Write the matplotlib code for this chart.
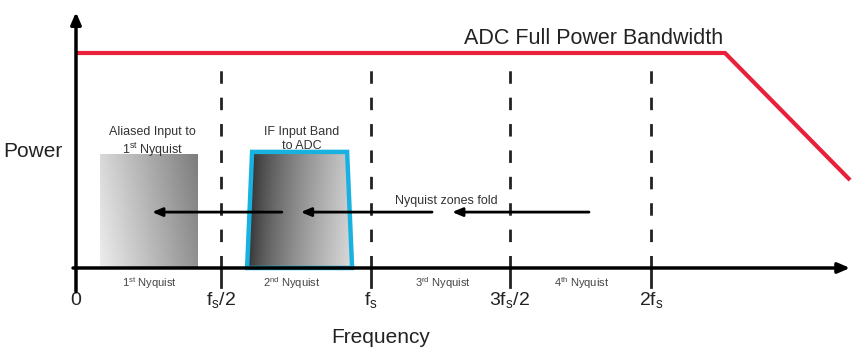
import matplotlib
matplotlib.use("Agg")
import matplotlib.pyplot as plt
from matplotlib.patches import Polygon
import numpy as np

plt.rcParams['font.family'] = ['Liberation Sans', 'DejaVu Sans']
plt.rcParams['mathtext.default'] = 'regular'
plt.rcParams['lines.scale_dashes'] = False

# x in units of fs, y in relative power (1.0 = full power level)
tick_pos = [0.0, 0.4915, 1.0, 1.471, 1.949]
tick_labels = ['0', 'f$_s$/2', 'f$_s$', '3f$_s$/2', '2f$_s$']
zone_pos = [0.25, 0.73, 1.245, 1.715]
zone_labels = ['1$^{st}$ Nyquist', '2$^{nd}$ Nyquist', '3$^{rd}$ Nyquist', '4$^{th}$ Nyquist']

bw_x = [0.0, 2.2, 2.624]
bw_y = [1.0, 1.0, 0.409]

alias_x = [0.081, 0.41]
alias_top = 0.526
if_x = [0.58, 0.597, 0.919, 0.936]
if_y = [0.0, 0.54, 0.54, 0.0]

fold_y = 0.26
fold_arrows = [(0.698, 0.258), (1.207, 0.762), (1.739, 1.275)]

fig = plt.figure(figsize=(8.65, 3.55), dpi=100)
ax = fig.add_axes([0, 0, 1, 1])
ax.set_xlim(-0.2576, 2.6746)
ax.set_ylim(-0.4047, 1.2465)
ax.axis('off')

# --- 渐变色块：混叠到第一奈奎斯特区的信号 ---
t = np.linspace(0, 1, 200)[None, :]
v = np.linspace(0, 1, 100)[:, None]
grad1 = 0.93 - 0.36 * t - 0.08 * (1 - v)
ax.imshow(grad1, cmap='gray', vmin=0, vmax=1, aspect='auto', origin='upper',
          extent=(alias_x[0], alias_x[1], 0, alias_top), zorder=1, interpolation='bilinear')

# IF 输入带
grad2 = 0.12 + 0.68 * t ** 0.7 + 0.06 * v
im2 = ax.imshow(grad2, cmap='gray', vmin=0, vmax=1, aspect='auto', origin='upper',
                extent=(if_x[0], if_x[3], 0, if_y[1]), zorder=1, interpolation='bilinear')
trap = Polygon(list(zip(if_x, if_y)), closed=True, fill=False,
               edgecolor='#19b2e0', lw=3.2, zorder=3)
ax.add_patch(trap)
im2.set_clip_path(trap)

# 满功率带宽线
ax.plot(bw_x, bw_y, color='#e8203a', lw=3, zorder=4, solid_capstyle='butt')
ax.text(1.755, 1.02, 'ADC Full Power Bandwidth', fontsize=15.5, ha='center', va='bottom', color='#222222')

# 奈奎斯特分界虚线
for xp in tick_pos[1:]:
    ax.plot([xp, xp], [0, 0.92], color='#222222', lw=2, dashes=(9, 10), zorder=2)
    ax.plot([xp, xp], [-0.09, 0], color='#222222', lw=2, zorder=2)

# 坐标轴
ax.annotate('', xy=(0, 1.19), xytext=(0, -0.11),
            arrowprops=dict(arrowstyle='-|>,head_length=0.7,head_width=0.3', lw=2.5,
                            color='black', shrinkA=0, shrinkB=0), zorder=5)
ax.annotate('', xy=(2.624, 0), xytext=(-0.01, 0),
            arrowprops=dict(arrowstyle='-|>,head_length=0.7,head_width=0.3', lw=2.5,
                            color='black', shrinkA=0, shrinkB=0), zorder=5)

# 折叠箭头
for x0, x1 in fold_arrows:
    ax.annotate('', xy=(x1, fold_y), xytext=(x0, fold_y),
                arrowprops=dict(arrowstyle='-|>,head_length=0.6,head_width=0.25', lw=2,
                                color='black', shrinkA=0, shrinkB=0), zorder=4)

ax.text(1.255, 0.31, 'Nyquist zones fold', fontsize=9, ha='center', va='center', color='#333333')
ax.text(0.26, 0.585, 'Aliased Input to\n1$^{st}$ Nyquist', fontsize=9, ha='center', va='center',
        color='#333333', linespacing=1.2)
ax.text(0.765, 0.6, 'IF Input Band\nto ADC', fontsize=9, ha='center', va='center',
        color='#333333', linespacing=1.2)

for xp, lab in zip(zone_pos, zone_labels):
    ax.text(xp, -0.068, lab, fontsize=8, ha='center', va='center', color='#444444')

for xp, lab in zip(tick_pos, tick_labels):
    ax.text(xp, -0.15, lab, fontsize=14, ha='center', va='center', color='#222222')

ax.text(1.033, -0.325, 'Frequency', fontsize=15, ha='center', va='center', color='#222222')
ax.text(-0.145, 0.54, 'Power', fontsize=15, ha='center', va='center', color='#222222')

fig.savefig('out.png', dpi=100)
